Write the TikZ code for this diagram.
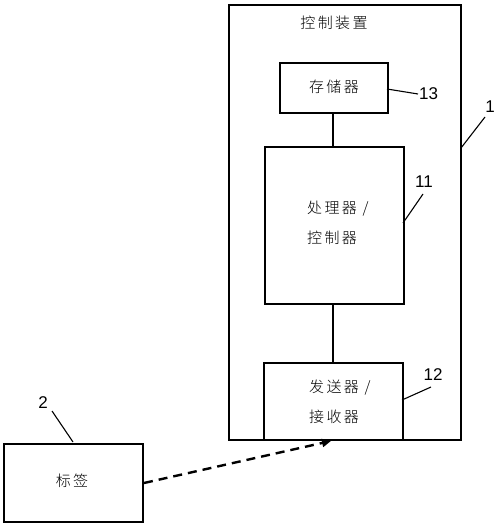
\documentclass[tikz,border=0pt]{standalone}
\usepackage{fontspec}
\setmainfont{Liberation Sans}
\newfontfamily\cjk[LetterSpace=16]{Noto Sans CJK SC Light}
\usetikzlibrary{arrows.meta}
\begin{document}
\begin{tikzpicture}[x=1pt,y=-1pt,
  box/.style={draw,line width=2pt,inner sep=0pt,anchor=north west},
  cjktext/.style={font=\cjk\fontsize{15pt}{30pt}\selectfont,inner sep=0pt},
  num/.style={font=\fontsize{17pt}{20pt}\selectfont,inner sep=1pt},
  leader/.style={line width=1.1pt},
  link/.style={line width=2pt}]
\useasboundingbox (0,0) rectangle (500,524);
% boxes
\node[box,minimum width=232pt,minimum height=435pt] (ctrl) at (228,4) {};
\node[box,minimum width=108pt,minimum height=50pt] (mem) at (279,62) {};
\node[box,minimum width=139pt,minimum height=157pt] (proc) at (264,146) {};
\node[box,minimum width=139pt,minimum height=77pt] (trx) at (263,362) {};
\node[box,minimum width=139pt,minimum height=78pt] (tag) at (3,443) {};
% texts
\node[cjktext] (ctrlt) at (334,23) {控制装置};
\node[cjktext] (memt) at (334,87) {存储器};
\node[cjktext,anchor=west,align=left] (proct) at (307,223) {处理器 /\\控制器};
\node[cjktext,anchor=west,align=left] (trxt) at (309,402) {发送器 /\\接收器};
\node[cjktext] (tagt) at (72,481) {标签};
% connectors
\draw[link] (mem.south -| 333,0) -- (proc.north -| 333,0);
\draw[link] (proc.south -| 333,0) -- (trx.north -| 333,0);
% reference numbers
\node[num,anchor=west] (n13) at (418,94) {13};
\node[num] (n1) at (490,107) {1};
\node[num] (n11) at (424,182) {11};
\node[num] (n12) at (433,375) {12};
\node[num] (n2) at (43,403) {2};
\coordinate (p13) at (387,89);
\coordinate (p1) at (461,148);
\coordinate (p11) at (403,223);
\coordinate (p12) at (402,400);
\coordinate (p2) at (73,442);
\draw[leader] (p13) -- (n13.west);
\draw[leader] (p1) -- (485,117);
\draw[leader] (p11) -- (423,194);
\draw[leader] (p12) -- (431,387);
\draw[leader] (p2) -- (52,411);
% dashed arrow
\coordinate (tip) at (331,441);
\draw[line width=2.4pt,dash pattern=on 9pt off 6pt,-{Triangle[length=9pt,width=8pt]}] (tag.east) -- (tip);
\end{tikzpicture}
\end{document}
